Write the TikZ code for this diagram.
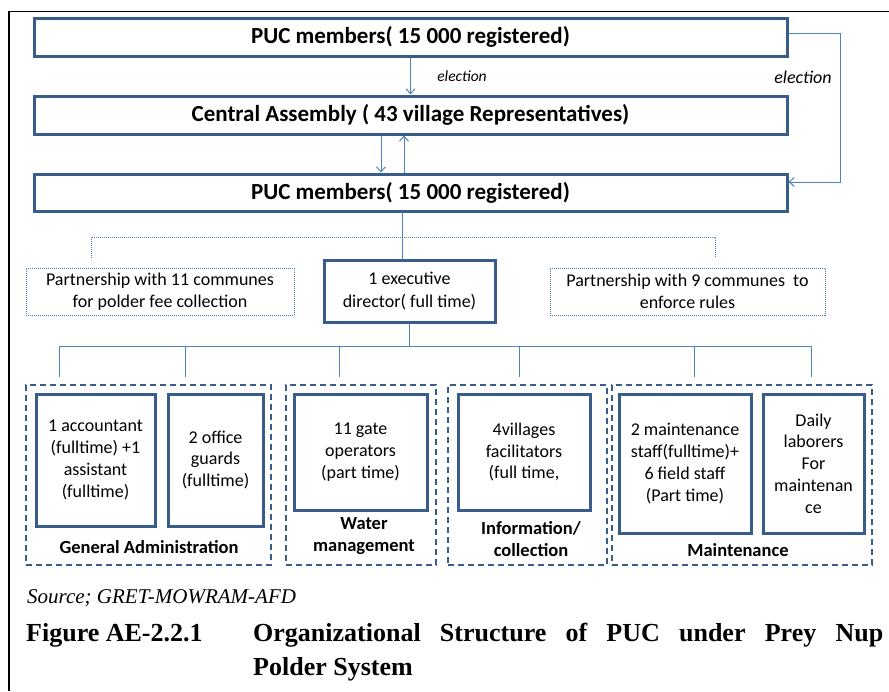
\documentclass[tikz,border=0pt]{standalone}
\usepackage{fontspec}
\setmainfont{Carlito}
\newfontfamily\capfont{Liberation Serif}
\usetikzlibrary{arrows.meta}
\definecolor{boxblue}{HTML}{385D8A}
\definecolor{linkblue}{HTML}{4F81BD}

\begin{document}
\begin{tikzpicture}[x=1pt,y=-1pt,
  mainbox/.style={draw=boxblue, line width=3pt, inner sep=0pt, align=center,
    font=\fontsize{23}{28}\selectfont\bfseries},
  execbox/.style={draw=boxblue, line width=3pt, inner sep=0pt, align=center,
    font=\fontsize{18}{22.5}\selectfont},
  partbox/.style={draw=linkblue, densely dotted, line width=1pt, inner sep=0pt, align=center,
    font=\fontsize{18}{22.5}\selectfont},
  grpbox/.style={draw=boxblue, line width=2.5pt, dash pattern=on 6pt off 4pt, inner sep=0pt},
  staffbox/.style={draw=boxblue, line width=3pt, inner sep=0pt, align=center,
    font=\fontsize{18}{21.8}\selectfont},
  grplabel/.style={inner sep=0pt, align=center, font=\fontsize{18.5}{22.5}\selectfont\bfseries},
  elect/.style={inner sep=0pt, font=\itshape},
  link/.style={draw=linkblue, line width=1pt},
  dotlink/.style={draw=linkblue, densely dotted, line width=1pt},
  arr/.style={link, -{Straight Barb[length=5pt,width=9pt]}},
  frame/.style={draw=black, line width=1.5pt},
]
\useasboundingbox (0,0) rectangle (889,691);

% page frame
\draw[frame] (9,691) -- (9,11.5) -- (889,11.5);

% governance levels
\node[mainbox, minimum width=753, minimum height=38] (puc1) at (410.5,37) {PUC members( 15 000 registered)};
\node[mainbox, minimum width=753, minimum height=38] (ca) at (410.5,115) {Central Assembly ( 43 village Representatives)};
\node[mainbox, minimum width=753, minimum height=37] (puc2) at (410.5,192.5) {PUC members( 15 000 registered)};

% election links
\draw[arr] (puc1) -- (ca);
\node[elect, font=\fontsize{15.5}{18}\selectfont\itshape] (el1) at (462,76) {election};
\coordinate (dn) at (381,0);
\coordinate (up) at (404,0);
\draw[arr] (ca.south -| dn) -- (puc2.north -| dn);
\draw[arr] (puc2.north -| up) -- (ca.south -| up);
\coordinate (loopTop) at (840,33);
\coordinate (loopBot) at (840,182);
\draw[arr] (puc1.east |- loopTop) -- (loopTop) -- (loopBot) -- (puc2.east |- loopBot);
\node[elect, font=\fontsize{18}{21}\selectfont\itshape] (el2) at (803,77) {election};

% executive level
\node[execbox, minimum width=171, minimum height=62] (exec) at (409.5,291) {1 executive\\director( full time)};
\node[partbox, minimum width=268, minimum height=47] (partL) at (160,291.5) {Partnership with 11 communes\\for polder fee collection};
\node[partbox, minimum width=275, minimum height=47] (partR) at (687.5,291.5) {Partnership with 9 communes~ to\\enforce rules};

\coordinate (stem) at (402,237);
\draw[link] (puc2.south -| stem) -- (exec.north -| stem);
\coordinate (pl) at (91,237);
\coordinate (pr) at (715,237);
\coordinate (plEnd) at (91,258);
\coordinate (prEnd) at (715,258);
\draw[dotlink] (plEnd) -- (pl) -- (pr) -- (prEnd);

% departments
\node[grpbox, minimum width=245, minimum height=180] (g1) at (148.5,475) {};
\node[grpbox, minimum width=150, minimum height=180] (g2) at (361,475) {};
\node[grpbox, minimum width=159, minimum height=180] (g3) at (527.5,475) {};
\node[grpbox, minimum width=260, minimum height=180] (g4) at (742,475) {};

\node[staffbox, minimum width=119, minimum height=132] (acc) at (95.5,460) {1 accountant\\(fulltime) +1\\assistant\\(fulltime)};
\node[staffbox, minimum width=95, minimum height=132] (guard) at (215.5,460) {2 office\\guards\\(fulltime)};
\node[staffbox, minimum width=133, minimum height=116] (gate) at (360.5,452) {11 gate\\operators\\(part time)};
\node[staffbox, minimum width=132, minimum height=116] (facil) at (524,452) {4villages\\facilitators\\(full time,};
\node[staffbox, minimum width=132, minimum height=139] (maint) at (685,463.5) {2 maintenance\\staff(fulltime)+\\6 field staff\\(Part time)};
\node[staffbox, minimum width=101, minimum height=139] (daily) at (813.5,463.5) {Daily\\laborers\\For\\maintenan\\ce};

\node[grplabel] (l1) at (149,547) {General Administration};
\node[grplabel] (l2) at (364,536) {Water\\management};
\node[grplabel] (l3) at (531,539) {Information/\\collection};
\node[grplabel] (l4) at (738,550) {Maintenance};

% branch bus from the director
\coordinate (bus) at (409,346);
\coordinate (busL) at (59,346);
\coordinate (busR) at (811,346);
\draw[link] (exec.south -| bus) -- (bus);
\draw[link] (busL) -- (busR);
\foreach \dx [count=\i] in {59,185,339,519,694,811} {
  \coordinate (drop\i) at (\dx,346);
  \coordinate (dropEnd\i) at (\dx,377);
  \draw[link] (drop\i) -- (dropEnd\i);
}

% caption
\node[anchor=base west, inner sep=0pt, font=\capfont\fontsize{21}{25}\selectfont\itshape] (src) at (27,603) {Source; GRET-MOWRAM-AFD};
\node[anchor=base west, inner sep=0pt, font=\capfont\fontsize{26}{31}\selectfont\bfseries] (fig) at (26,641) {Figure AE-2.2.1};
\node[anchor=base west, inner sep=0pt, font=\capfont\fontsize{26}{31}\selectfont\bfseries] (cap1) at (253,641)
  {\hbox to 630pt{Organizational\hfill Structure\hfill of\hfill PUC\hfill under\hfill Prey\hfill Nup}};
\node[anchor=base west, inner sep=0pt, font=\capfont\fontsize{26}{31}\selectfont\bfseries] (cap2) at (253,675) {Polder System};
\end{tikzpicture}
\end{document}
